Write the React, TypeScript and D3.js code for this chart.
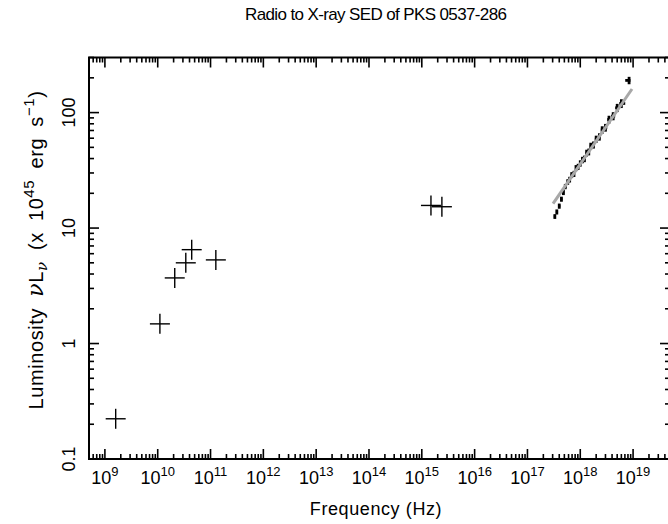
import React from "react";
import * as d3 from "d3";

// radio + optical photometry (Hz, 1e45 erg/s)
const radioFreq = [1.6e9, 1.1e10, 2.1e10, 3.4e10, 4.4e10, 1.26e11];
const radioLum = [0.223, 1.48, 3.7, 5.0, 6.5, 5.3];
const opticalFreq = [1.49e15, 2.4e15];
const opticalLum = [15.7, 15.3];

// X-ray spectrum bins
const xrayFreq = [
  3.3e17, 3.6e17, 4.0e17, 4.4e17, 4.8e17, 5.2e17, 5.8e17, 6.3e17, 6.9e17,
  7.6e17, 8.3e17, 9.1e17, 1.0e18, 1.1e18, 1.2e18, 1.32e18, 1.45e18, 1.58e18,
  1.78e18, 2.0e18, 2.3e18, 2.6e18, 3.0e18, 3.5e18, 4.2e18, 5.0e18, 6.0e18, 8.4e18,
];
const xrayLum = [
  12.6, 13.8, 15.5, 17.8, 20.4, 22.9, 25.1, 26.3, 28.8, 29.5, 33.1, 33.9, 36.3,
  38.9, 39.8, 44.7, 45.7, 51.3, 52.5, 58.9, 61.7, 70.8, 74.1, 87.1, 93.3, 110, 120, 190,
];
const xrayErr = [
  0.6, 0.7, 0.8, 0.9, 1.1, 1.2, 1.4, 1.5, 1.7, 1.8, 2.0, 2.1, 2.3, 2.5, 2.6, 3.0,
  3.1, 3.5, 3.7, 4.2, 4.5, 5.3, 5.7, 6.8, 7.5, 9.0, 10.5, 14,
];

// power-law model
const modelFreq = [3.05e17, 9.55e18];
const modelLum = [16.3, 160];

const xDecades = d3.range(9, 20);
const yLabels = [0.1, 1, 10, 100];

const W = 668;
const H = 524;
const left = 89;
const right = 670;
const top = 57.5;
const bottom = 459;
const font = "'Liberation Sans', Arial, sans-serif";
const greek = "'DejaVu Serif', serif";

const App: React.FC = () => {
  const x = d3.scaleLog().domain([5e8, 5e19]).range([left, right]);
  const y = d3.scaleLog().domain([0.1, 300]).range([bottom, top]);

  const xTicks: { v: number; major: boolean }[] = [];
  for (let e = 8; e <= 19; e++) {
    for (let m = 1; m <= 9; m++) {
      const v = m * Math.pow(10, e);
      if (v < 5e8 || v > 5e19) continue;
      xTicks.push({ v, major: m === 1 });
    }
  }
  const yTicks: { v: number; major: boolean }[] = [];
  for (let e = -1; e <= 2; e++) {
    for (let m = 1; m <= 9; m++) {
      const v = m * Math.pow(10, e);
      if (v > 300) continue;
      yTicks.push({ v, major: m === 1 });
    }
  }

  const crosses = [
    ...radioFreq.map((f, i) => [f, radioLum[i]]),
    ...opticalFreq.map((f, i) => [f, opticalLum[i]]),
  ];

  const model = d3
    .line<number>()
    .x((d) => x(d))
    .y((_, i) => y(modelLum[i]))(modelFreq);

  return (
    <div style={{ position: "absolute", left: 0, top: 0 }}>
      <svg width={W} height={H} style={{ display: "block", background: "#fff" }}>
        {/* title */}
        <text x={376} y={20} textAnchor="middle" fontFamily={font} fontSize={17} textLength={262} lengthAdjust="spacing">
          Radio to X-ray SED of PKS 0537-286
        </text>

        {/* frame */}
        <rect x={left} y={top} width={right - left} height={bottom - top} fill="none" stroke="#000" strokeWidth={2} />

        {/* x ticks bottom + top */}
        {xTicks.map((t, i) => (
          <g key={"xt" + i} stroke="#000" strokeWidth={1.6}>
            <line x1={x(t.v)} x2={x(t.v)} y1={bottom} y2={bottom - (t.major ? 10 : 5)} />
            <line x1={x(t.v)} x2={x(t.v)} y1={top} y2={top + (t.major ? 10 : 5)} />
          </g>
        ))}
        {/* y ticks left + right */}
        {yTicks.map((t, i) => (
          <g key={"yt" + i} stroke="#000" strokeWidth={1.6}>
            <line x1={left} x2={left + (t.major ? 10 : 5)} y1={y(t.v)} y2={y(t.v)} />
            <line x1={right} x2={right - (t.major ? 10 : 5)} y1={y(t.v)} y2={y(t.v)} />
          </g>
        ))}

        {/* x tick labels */}
        {xDecades.map((e) => (
          <text key={"xl" + e} x={x(Math.pow(10, e))} y={484} textAnchor="middle" fontFamily={font} fontSize={18}>
            10
            <tspan dy={-8} fontSize={13}>{e}</tspan>
          </text>
        ))}

        {/* y tick labels */}
        {yLabels.map((v) => (
          <text
            key={"yl" + v}
            transform={`translate(75,${y(v)}) rotate(-90)`}
            textAnchor="middle"
            fontFamily={font}
            fontSize={18}
          >
            {v}
          </text>
        ))}

        {/* axis labels */}
        <text x={376} y={515} textAnchor="middle" fontFamily={font} fontSize={18} letterSpacing={0.6}>
          Frequency (Hz)
        </text>
        <text
          transform="translate(43,250) rotate(-90)"
          textAnchor="middle"
          fontFamily={font}
          fontSize={20}
          letterSpacing={0.6}
          wordSpacing={5}
        >
          Luminosity{" "}
          <tspan fontStyle="italic" fontFamily={greek} fontSize={22}>ν</tspan>L
          <tspan dy={4} fontSize={15} fontStyle="italic" fontFamily={greek}>ν</tspan>
          <tspan dy={-4}> (x 10</tspan>
          <tspan dy={-9} fontSize={15}>45</tspan>
          <tspan dy={9}> erg s</tspan>
          <tspan dy={-9} fontSize={15}>−1</tspan>
          <tspan dy={9}>)</tspan>
        </text>

        {/* radio / optical crosses */}
        {crosses.map(([f, l], i) => (
          <g key={"c" + i} stroke="#000" strokeWidth={1.4}>
            <line x1={x(f) - 10} x2={x(f) + 10} y1={y(l)} y2={y(l)} />
            <line x1={x(f)} x2={x(f)} y1={y(l) - 10} y2={y(l) + 10} />
          </g>
        ))}

        {/* X-ray bins */}
        {xrayFreq.map((f, i) => {
          const lo = i > 0 ? Math.sqrt(f * xrayFreq[i - 1]) : f / Math.sqrt(xrayFreq[1] / f);
          const hi = i < xrayFreq.length - 1 ? Math.sqrt(f * xrayFreq[i + 1]) : f * 1.06;
          const l = xrayLum[i];
          return (
            <g key={"x" + i} stroke="#000" strokeWidth={2.8}>
              <line x1={x(lo)} x2={x(hi)} y1={y(l)} y2={y(l)} />
              <line x1={x(f)} x2={x(f)} y1={y(l - xrayErr[i])} y2={y(l + xrayErr[i])} />
            </g>
          );
        })}

        {/* model */}
        <path d={model ?? ""} fill="none" stroke="#a8a8a8" strokeWidth={3} />
      </svg>
    </div>
  );
};

export default App;
